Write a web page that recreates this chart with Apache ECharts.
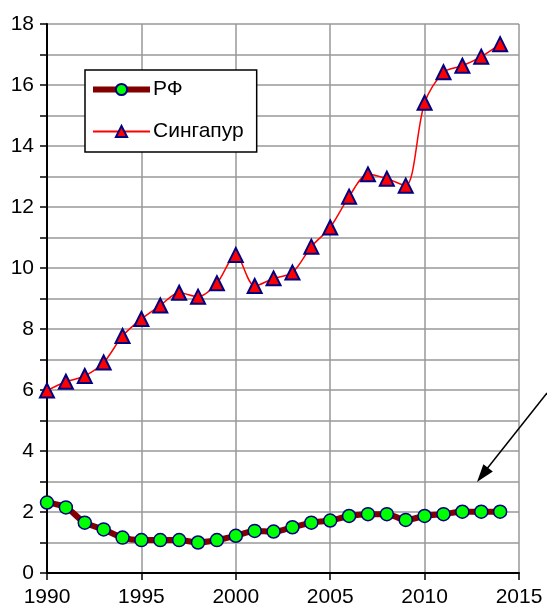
<!DOCTYPE html>
<html><head><meta charset="utf-8">
<script src="https://cdn.jsdelivr.net/npm/echarts@6/dist/echarts.min.js"></script>
<style>html,body{margin:0;padding:0;background:#fff}#c{width:547px;height:611px}</style>
</head><body><div id="c"></div>
<script>
const years = [1990,1991,1992,1993,1994,1995,1996,1997,1998,1999,2000,2001,2002,2003,2004,2005,2006,2007,2008,2009,2010,2011,2012,2013,2014];
const rf = [2.31,2.15,1.65,1.43,1.16,1.08,1.08,1.08,1.0,1.08,1.22,1.38,1.36,1.5,1.65,1.72,1.87,1.93,1.93,1.74,1.87,1.93,2.01,2.01,2.01];
const singapore = [5.98,6.27,6.46,6.9,7.77,8.33,8.77,9.19,9.06,9.5,10.43,9.41,9.66,9.85,10.7,11.33,12.34,13.07,12.93,12.7,15.42,16.42,16.63,16.93,17.34];
const seriesNames = ['РФ','Сингапур'];

const chart = echarts.init(document.getElementById('c'), null, {renderer:'canvas'});
const font = '"Liberation Sans", Arial, sans-serif';
chart.setOption({
  animation:false,
  backgroundColor:'#fff',
  grid:{left:47, top:24, right:28, bottom:38},
  legend:{
    orient:'vertical', left:85, top:70,
    backgroundColor:'#fff', borderColor:'#000', borderWidth:1.5,
    padding:[9,13,10,5], itemGap:21, itemWidth:57, itemHeight:14,
    textStyle:{fontFamily:font, fontSize:21, color:'#000', padding:[0,0,0,-2]},
    data:[
      {name:seriesNames[0], lineStyle:{width:6, color:'#800000'}},
      {name:seriesNames[1]}
    ]
  },
  xAxis:{
    type:'value', min:1990, max:2015, interval:5,
    axisLine:{lineStyle:{color:'#000', width:2}},
    axisTick:{show:true, length:7, lineStyle:{color:'#000', width:1.5}},
    axisLabel:{fontFamily:font, fontSize:21, color:'#000', margin:14, formatter:v => String(v)},
    splitLine:{show:true, lineStyle:{color:'#999999', width:1.5}}
  },
  yAxis:{
    type:'value', min:0, max:18, interval:1,
    axisLine:{show:true, lineStyle:{color:'#000', width:2}},
    axisTick:{show:true, length:7, lineStyle:{color:'#000', width:1.5}},
    axisLabel:{fontFamily:font, fontSize:21, color:'#000', margin:13,
      formatter:v => (v % 2 === 0 ? String(v) : '')},
    splitLine:{show:true, lineStyle:{color:'#999999', width:1.5}}
  },
  series:[
    {
      name:seriesNames[0], type:'line', smooth:0.3,
      data:years.map((y,i)=>[y, rf[i]]),
      symbol:'circle', symbolSize:13,
      lineStyle:{color:'#800000', width:6},
      itemStyle:{color:'#00ff00', borderColor:'#000080', borderWidth:1.5},
      z:3
    },
    {
      name:seriesNames[1], type:'line', smooth:0.3,
      data:years.map((y,i)=>[y, singapore[i]]),
      symbol:'triangle', symbolSize:14,
      lineStyle:{color:'#ff0000', width:1.5},
      itemStyle:{color:'#ff0000', borderColor:'#000080', borderWidth:2},
      z:3
    }
  ],
  graphic:[
    {type:'line', shape:{x1:547, y1:393, x2:486, y2:470}, style:{stroke:'#000', lineWidth:1.5}, z:10},
    {type:'polygon', shape:{points:[[477,482],[492.8,471.6],[483.4,464.2]]}, style:{fill:'#000'}, z:10}
  ]
});
</script>
</body></html>
